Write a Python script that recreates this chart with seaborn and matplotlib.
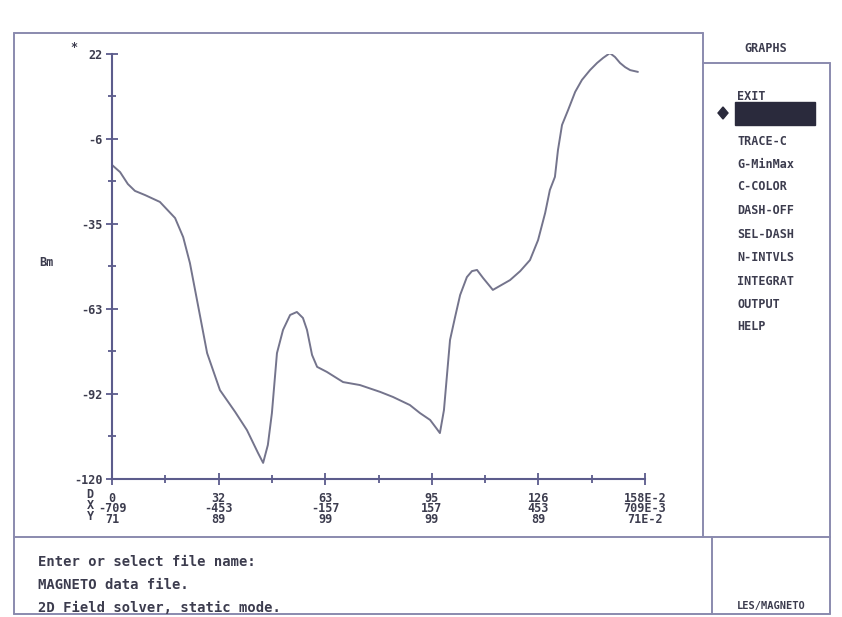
import matplotlib
matplotlib.use('Agg')
import matplotlib.pyplot as plt
import seaborn as sns
import pandas as pd
from matplotlib.lines import Line2D
from matplotlib.patches import Rectangle, Polygon

# curve (D along the arc, Bm value)
d_vals = [0.0, 2.4, 4.7, 6.8, 9.8, 14.2, 18.7, 21.1, 23.1, 25.2, 28.2, 32.0,
          36.5, 40.0, 43.3, 44.8, 46.2, 47.4, 48.9, 50.7, 52.8, 54.8, 56.6,
          57.8, 59.3, 60.8, 63.7, 68.5, 73.5, 79.5, 83.3, 88.3, 91.3, 94.3,
          96.1, 97.2, 98.4, 100.2, 101.7, 103.2, 105.2, 106.7, 108.2, 110.0,
          112.9, 118.0, 121.0, 123.9, 126.3, 128.4, 129.8, 131.3, 132.2,
          133.4, 135.2, 137.3, 139.3, 141.7, 143.8, 145.6, 147.6, 149.1,
          150.6, 152.1, 153.6, 155.9]
bm_vals = [-14.7, -17.1, -21.1, -23.4, -24.8, -27.1, -32.5, -38.9, -47.6,
           -60.0, -77.8, -90.2, -97.5, -103.6, -111.3, -114.6, -108.6, -97.9,
           -77.8, -70.0, -65.0, -64.0, -66.0, -70.0, -78.4, -82.4, -84.1,
           -87.5, -88.5, -90.8, -92.5, -95.2, -97.9, -100.2, -102.9, -104.6,
           -96.9, -73.4, -65.7, -58.3, -52.3, -50.3, -49.9, -52.6, -56.6,
           -53.3, -50.3, -46.6, -39.9, -30.8, -23.1, -18.7, -9.7, -1.3, 3.7,
           9.8, 13.8, 17.1, 19.5, 21.2, 22.8, 21.5, 19.5, 18.1, 17.1, 16.5]

y_ticks = [-120, -91.5, -63, -34.5, -6, 22.5]
y_labels = ['-120', '-92', '-63', '-35', '-6', '22']
x_ticks = [0, 31.6, 63.2, 94.8, 126.4, 158]
x_row1 = ['0', '32', '63', '95', '126', '158E-2']
x_row2 = ['-709', '-453', '-157', '157', '453', '709E-3']
x_row3 = ['71', '89', '99', '99', '89', '71E-2']
row_names = ['D', 'X', 'Y']

menu_items = ['TRACE-C', 'G-MinMax', 'C-COLOR', 'DASH-OFF', 'SEL-DASH',
              'N-INTVLS', 'INTEGRAT', 'OUTPUT', 'HELP']
menu_y = [142, 165, 187, 211, 234, 257, 281, 304, 327]
status_lines = ['Enter or select file name:', 'MAGNETO data file.',
                '2D Field solver, static mode.']

sns.set_style('white')
plt.rcParams['font.family'] = ['DejaVu Sans Mono']

W, H = 842, 617
TXT = '#3c3c4e'
FRAME = '#8a8aae'
AX = '#5c5c8c'
CURVE = '#74748c'


def fx(x):
    return x / W


def fy(y):
    return 1 - y / H


fig = plt.figure(figsize=(W / 100, H / 100), dpi=100)
fig.patch.set_facecolor('white')

# plot area
ax = fig.add_axes([fx(112), fy(479), fx(645 - 112), (479 - 54) / H])
df = pd.DataFrame({'D': d_vals, 'Bm': bm_vals})
sns.lineplot(data=df, x='D', y='Bm', ax=ax, color=CURVE, linewidth=1.4,
             sort=False, estimator=None)
ax.set_xlim(0, 158)
ax.set_ylim(-120, 22.5)
for s in ['top', 'right']:
    ax.spines[s].set_visible(False)
for s in ['left', 'bottom']:
    ax.spines[s].set_color(AX)
    ax.spines[s].set_linewidth(1.5)
ax.set_facecolor('none')

ax.set_yticks(y_ticks)
ax.set_yticklabels(y_labels)
ax.set_yticks([(a + b) / 2 for a, b in zip(y_ticks[:-1], y_ticks[1:])], minor=True)
ax.set_xticks(x_ticks)
ax.set_xticklabels(['%s\n%s\n%s' % t for t in zip(x_row1, x_row2, x_row3)],
                   linespacing=0.78)
ax.set_xticks([(a + b) / 2 for a, b in zip(x_ticks[:-1], x_ticks[1:])], minor=True)
ax.tick_params(axis='both', which='both', direction='inout', color=AX, width=1.3,
               bottom=True, left=True)
ax.tick_params(axis='both', which='major', length=8, labelsize=8.5,
               labelcolor=TXT, pad=3)
ax.tick_params(axis='x', which='major', pad=5)
ax.tick_params(axis='both', which='minor', length=6)
for lab in ax.get_xticklabels() + ax.get_yticklabels():
    lab.set_fontweight('bold')
ax.set_xlabel('')
ax.set_ylabel('')

# row names next to the three-line x labels
fig.text(fx(90), fy(488), '\n'.join(row_names), fontsize=8.5, fontweight='bold',
         color=TXT, ha='center', va='top', linespacing=0.78)
fig.text(fx(46), fy(263), 'Bm', fontsize=8.5, fontweight='bold', color=TXT,
         ha='center', va='center')
fig.text(fx(74), fy(48), '*', fontsize=8.5, fontweight='bold', color=TXT,
         ha='center', va='center')

# screen frame
segs = [((14, 33), (703, 33)), ((14, 33), (14, 614)), ((703, 33), (703, 537)),
        ((703, 63), (830, 63)), ((830, 63), (830, 614)), ((14, 537), (830, 537)),
        ((712, 537), (712, 614)), ((14, 614), (830, 614))]
for (x0, y0), (x1, y1) in segs:
    fig.add_artist(Line2D([fx(x0), fx(x1)], [fy(y0), fy(y1)], color=FRAME,
                          linewidth=1.4, transform=fig.transFigure))

# menu
fig.text(fx(766), fy(48), 'GRAPHS', fontsize=8.5, fontweight='bold', color=TXT,
         ha='center', va='center')
fig.text(fx(737), fy(97), 'EXIT', fontsize=8.5, fontweight='bold', color=TXT,
         ha='left', va='center')
fig.add_artist(Rectangle((fx(735), fy(125)), fx(80), 23 / H, color='#2a2a3c',
                         transform=fig.transFigure))
fig.add_artist(Polygon([(fx(718), fy(113)), (fx(723), fy(107)),
                        (fx(728), fy(113)), (fx(723), fy(119))],
                       color='#2a2a3c', transform=fig.transFigure))
for item, y in zip(menu_items, menu_y):
    fig.text(fx(737), fy(y), item, fontsize=8.5, fontweight='bold', color=TXT,
             ha='left', va='center')

# status area
for i, line in enumerate(status_lines):
    fig.text(fx(38), fy(562 + 23 * i), line, fontsize=10, fontweight='bold',
             color=TXT, ha='left', va='center')
fig.text(fx(771), fy(606), 'LES/MAGNETO', fontsize=7.5, fontweight='bold',
         color=TXT, ha='center', va='center')

fig.savefig('out.png', dpi=100, facecolor='white')
plt.close(fig)
